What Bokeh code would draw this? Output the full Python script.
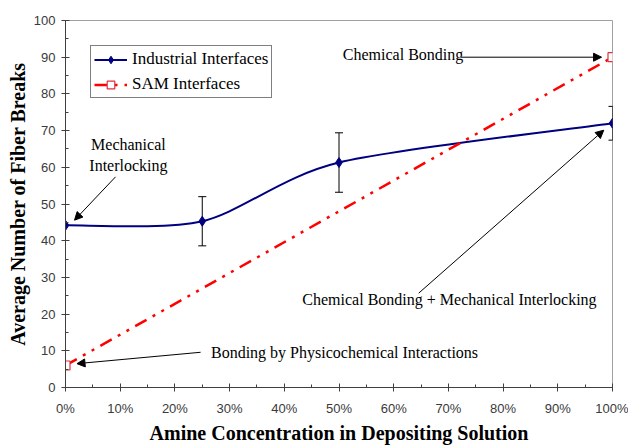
from bokeh.plotting import figure
from bokeh.models import (ColumnDataSource, Range1d, FixedTicker, NumeralTickFormatter,
                          Legend, LegendItem, Label, Arrow, NormalHead, Whisker, TeeHead)
from bokeh.embed import file_html
from bokeh.resources import INLINE

# ---------------- data ----------------
ind_x = [0.0, 0.25, 0.50, 1.00]
ind_y = [44.2, 45.3, 61.3, 72.0]
ind_err = [0.0, 6.7, 8.1, 4.6]

sam_x = [0.0, 1.0]
sam_y = [6.0, 90.0]

x_ticks = [0.0, 0.1, 0.2, 0.3, 0.4, 0.5, 0.6, 0.7, 0.8, 0.9, 1.0]
x_minor = [0.05, 0.15, 0.25, 0.35, 0.45, 0.55, 0.65, 0.75, 0.85, 0.95]
y_ticks = [0, 10, 20, 30, 40, 50, 60, 70, 80, 90, 100]
y_minor = [5, 15, 25, 35, 45, 55, 65, 75, 85, 95]

notes = [
    # text, x, y, align
    ("Mechanical", 0.115, 66.1, "center"),
    ("Interlocking", 0.115, 60.6, "center"),
    ("Chemical Bonding", 0.507, 90.8, "left"),
    ("Chemical Bonding + Mechanical Interlocking", 0.433, 24.1, "left"),
    ("Bonding by Physicochemical Interactions", 0.266, 9.5, "left"),
]
arrows = [
    # x_start, y_start, x_end, y_end
    (0.0915, 57.4, 0.0165, 45.6),
    (0.7225, 90.0, 0.980, 90.0),
    (0.6457, 25.7, 0.984, 70.1),
    (0.247, 9.6, 0.021, 6.5),
]

NAVY = "#000080"
RED = "#ff0000"
SERIF = "Liberation Serif"
SANS = "Liberation Sans"

p = figure(width=628, height=446, output_backend="svg", toolbar_location=None,
           x_range=Range1d(0, 1), y_range=Range1d(0, 100),
           min_border_left=65, min_border_right=16, min_border_top=20, min_border_bottom=54,
           background_fill_color="white", border_fill_color="white")
p.outline_line_color = "#a0a0a0"
p.outline_line_width = 1
p.grid.visible = False

for ax in (p.xaxis[0], p.yaxis[0]):
    ax.axis_line_color = "#404040"
    ax.major_tick_line_color = "#404040"
    ax.minor_tick_line_color = "#404040"
    ax.major_tick_in = 4
    ax.major_tick_out = 4
    ax.minor_tick_in = 3
    ax.minor_tick_out = 0
    ax.major_label_text_font = SANS
    ax.major_label_text_font_size = "13px"
    ax.major_label_text_color = "#3a3a3a"
    ax.axis_label_text_font = SERIF
    ax.axis_label_text_font_style = "bold"
    ax.axis_label_text_font_size = "20px"
    ax.axis_label_text_color = "black"

p.xaxis.ticker = FixedTicker(ticks=x_ticks, minor_ticks=x_minor)
p.yaxis.ticker = FixedTicker(ticks=y_ticks, minor_ticks=y_minor)
p.xaxis.formatter = NumeralTickFormatter(format="0%")
p.xaxis.axis_label = "Amine Concentration in Depositing Solution"
p.yaxis.axis_label = "Average Number of Fiber Breaks"
p.xaxis.major_label_standoff = 9
p.xaxis.axis_label_standoff = 3
p.yaxis.major_label_standoff = 6
p.yaxis.axis_label_standoff = 2

# ---- smoothed industrial curve (bezier segments built from the data points) ----
K = 0.28
n = len(ind_x)
pts = list(zip(ind_x, ind_y))
tang = []
for i in range(n):
    a = pts[max(i - 1, 0)]
    b = pts[min(i + 1, n - 1)]
    tang.append(((b[0] - a[0]) / 2, (b[1] - a[1]) / 2))
bz = dict(x0=[], y0=[], x1=[], y1=[], cx0=[], cy0=[], cx1=[], cy1=[])
for i in range(n - 1):
    bz["x0"].append(pts[i][0]); bz["y0"].append(pts[i][1])
    bz["x1"].append(pts[i + 1][0]); bz["y1"].append(pts[i + 1][1])
    bz["cx0"].append(pts[i][0] + tang[i][0] * K); bz["cy0"].append(pts[i][1] + tang[i][1] * K)
    bz["cx1"].append(pts[i + 1][0] - tang[i + 1][0] * K); bz["cy1"].append(pts[i + 1][1] - tang[i + 1][1] * K)
ind_curve = p.bezier(x0="x0", y0="y0", x1="x1", y1="y1", cx0="cx0", cy0="cy0", cx1="cx1", cy1="cy1",
                     source=ColumnDataSource(bz), line_color=NAVY, line_width=2)

# error bars
ex = [x for x, e in zip(ind_x, ind_err) if e > 0]
ey = [y for y, e in zip(ind_y, ind_err) if e > 0]
ee = [e for e in ind_err if e > 0]
esrc = ColumnDataSource(dict(x=ex, upper=[y + e for y, e in zip(ey, ee)],
                             lower=[y - e for y, e in zip(ey, ee)]))
p.add_layout(Whisker(source=esrc, base="x", upper="upper", lower="lower",
                     line_color="black", line_width=1,
                     upper_head=TeeHead(size=8, line_color="black", line_width=1),
                     lower_head=TeeHead(size=8, line_color="black", line_width=1)))

ind_pts = p.scatter(ind_x, ind_y, marker="diamond", size=10, fill_color=NAVY, line_color=NAVY)

# SAM line
sam_line = p.line(sam_x, sam_y, line_color=RED, line_width=2.5, line_dash="13 7 3 7 3 7")
sam_pts = p.scatter(sam_x, sam_y, marker="square", size=9, fill_color="white",
                    line_color="#e03040", line_width=1.2)

# legend proxy line for the industrial series (same data, drawn underneath the curve)
ind_leg = p.line(ind_x[:1] * 2, ind_y[:1] * 2, line_color=NAVY, line_width=2)

legend = Legend(items=[LegendItem(label="Industrial Interfaces", renderers=[ind_leg, ind_pts]),
                       LegendItem(label="SAM Interfaces", renderers=[sam_line, sam_pts])],
                location=(25, 289), label_text_font=SERIF, label_text_font_size="17px",
                label_text_color="black", glyph_width=33, glyph_height=19, label_height=19,
                label_standoff=5, padding=3, spacing=5, margin=0,
                border_line_color="black", border_line_width=1,
                background_fill_color="white", background_fill_alpha=1)
p.add_layout(legend, "center")

for t, x, y, al in notes:
    p.add_layout(Label(x=x, y=y, text=t, text_font=SERIF, text_font_size="16px",
                       text_color="black", text_align=al, text_baseline="middle"))

for xs, ys, xe, ye in arrows:
    p.add_layout(Arrow(x_start=xs, y_start=ys, x_end=xe, y_end=ye,
                       line_color="black", line_width=1,
                       end=NormalHead(size=8, fill_color="black", line_color="black")))

open("out.html", "w").write(file_html(p, INLINE))
